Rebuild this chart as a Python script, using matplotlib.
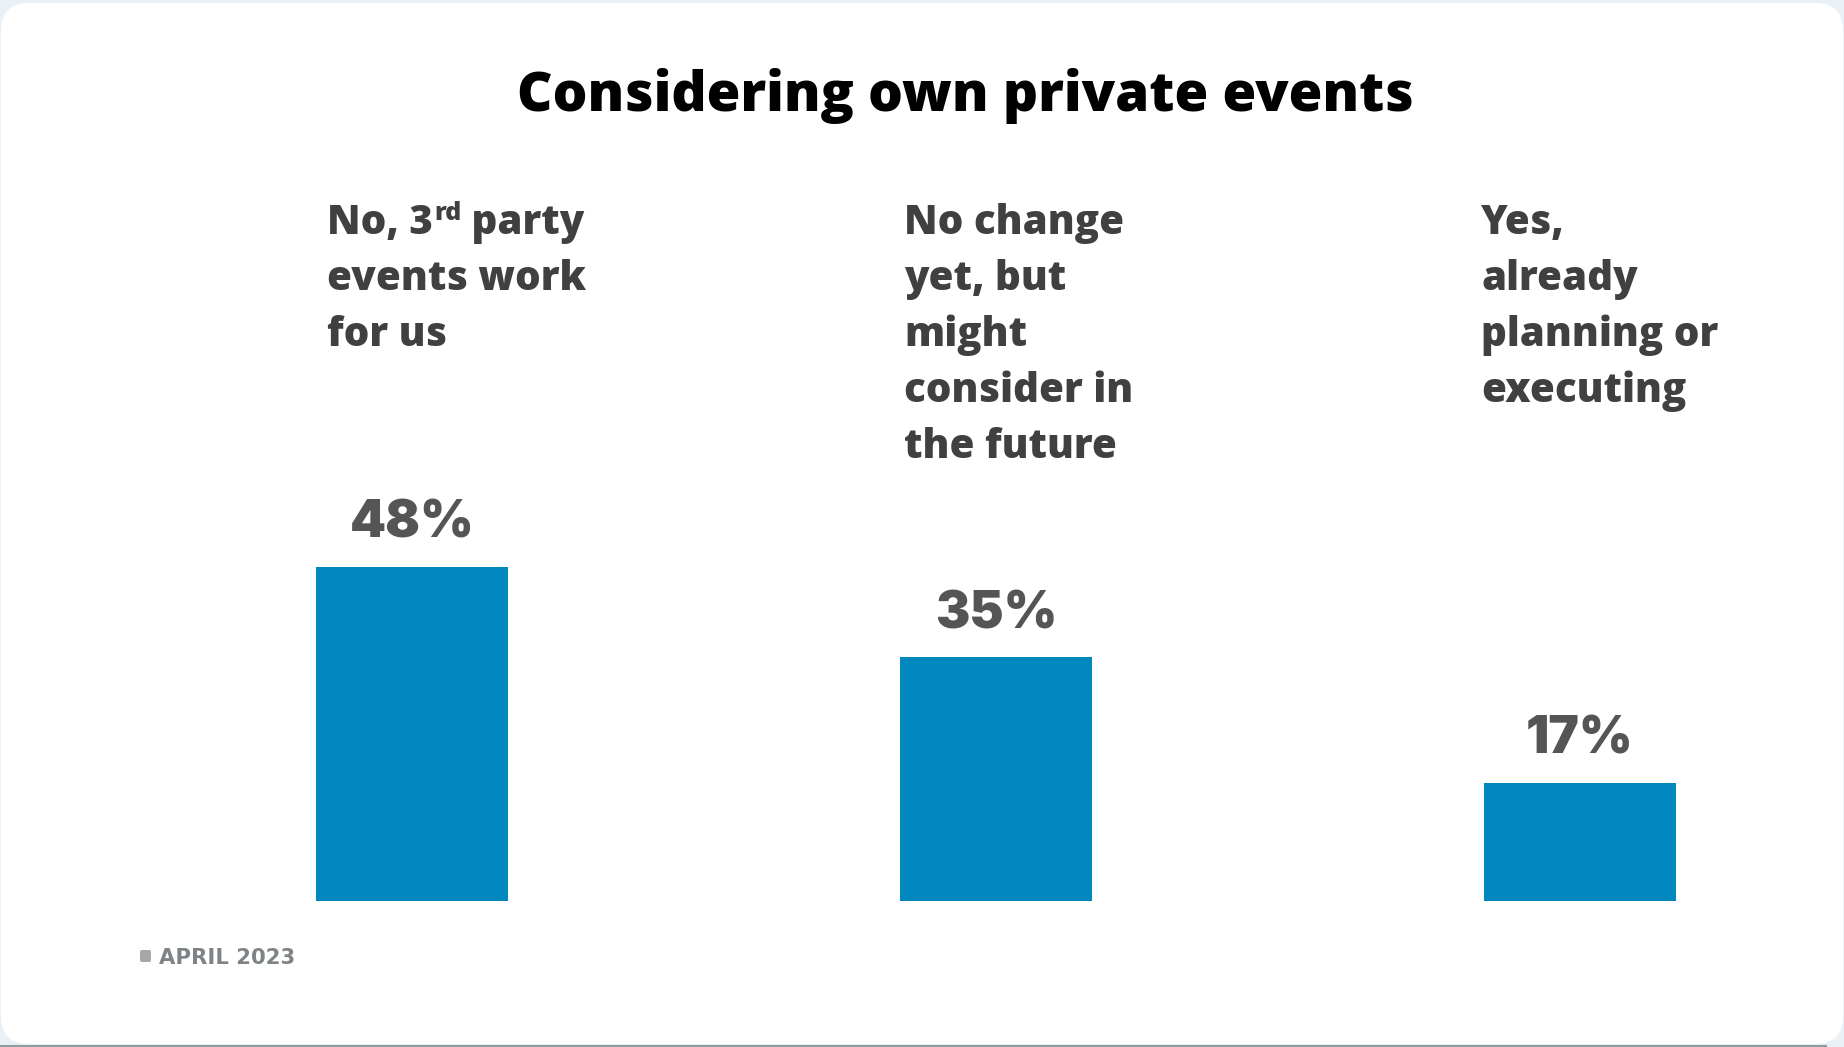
import matplotlib
matplotlib.use("Agg")
import matplotlib.pyplot as plt
from matplotlib.patches import FancyBboxPatch
from matplotlib.lines import Line2D
from matplotlib.transforms import IdentityTransform

# Chart data
title = "Considering own private events"
category_lines = [
    ["No, 3|rd| party", "events work", "for us"],
    ["No change", "yet, but", "might", "consider in", "the future"],
    ["Yes,", "already", "planning or", "executing"],
]
values = [48, 35, 17]
value_labels = ["48%", "35%", "17%"]
series_name = "APRIL 2023"

W, H = 1844, 1047
DPI = 100
BAR_COLOR = "#0087BE"
LABEL_COLOR = "#404040"
VALUE_COLOR = "#555555"
HEAD_FONT = ["Open Sans", "DejaVu Sans"]
VALUE_FONT = ["Inter", "DejaVu Sans"]

fig = plt.figure(figsize=(W / DPI, H / DPI), dpi=DPI)
fig.patch.set_facecolor("#EAF1F6")

# White rounded card with a thin grey base line
card = FancyBboxPatch((1, 3), W - 2, H - 6,
                      boxstyle="round,pad=0,rounding_size=28",
                      transform=IdentityTransform(), facecolor="white",
                      edgecolor="none", zorder=0)
fig.add_artist(card)
fig.add_artist(Line2D([0, W - 18], [1.5, 1.5], transform=IdentityTransform(),
                      color="#8E9BA1", lw=1.5, zorder=0))

# Axes placed so the bars land where they should in pixel space
step = 584.0
xmin, xmax = -0.4, 2.4
ax_left = 412 - (0 - xmin) * step
ax_width = (xmax - xmin) * step
ax_bottom = H - 901
ax_height = 696
ax = fig.add_axes([ax_left / W, ax_bottom / H, ax_width / W, ax_height / H])
ax.set_xlim(xmin, xmax)
ax.set_ylim(0, 100)
ax.axis("off")

bar_width = 0.33
xs = list(range(len(values)))
bars = ax.bar(xs, values, width=bar_width, color=BAR_COLOR, zorder=2)

# Value labels above bars
for x, v, lab in zip(xs, values, value_labels):
    ax.annotate(lab, xy=(x, v), xytext=(0, 29 * 72 / DPI),
                textcoords="offset points", ha="center", va="baseline",
                fontsize=37, fontweight=900, family=VALUE_FONT,
                color=VALUE_COLOR)

# Title
fig.text(965, H - 111, title, transform=IdentityTransform(),
         ha="center", va="baseline",
         fontsize=39.5, fontweight=800, family=HEAD_FONT, color="black")

# Category headings, left-aligned over each bar
renderer = fig.canvas.get_renderer()
first_baseline = 234
line_step = 56
cat_size = 29
indents = [0.020, 0.008, -0.004]
for x, lines, dx in zip(xs, category_lines, indents):
    x_left = x - bar_width / 2 + dx
    disp_x = ax.transData.transform((x_left, 0))[0]
    for i, line in enumerate(lines):
        base_y = H - (first_baseline + i * line_step)
        if "|" in line:
            pre, sup, post = line.split("|")
            t1 = fig.text(disp_x, base_y, pre, transform=IdentityTransform(),
                          ha="left", va="baseline", fontsize=cat_size,
                          fontweight=800, family=HEAD_FONT, color=LABEL_COLOR)
            ext1 = t1.get_window_extent(renderer)
            t2 = fig.text(ext1.x1 + 1, base_y + 14, sup,
                          transform=IdentityTransform(), ha="left",
                          va="baseline", fontsize=cat_size * 0.62,
                          fontweight=800, family=HEAD_FONT, color=LABEL_COLOR)
            ext2 = t2.get_window_extent(renderer)
            fig.text(ext2.x1, base_y, post, transform=IdentityTransform(),
                     ha="left", va="baseline", fontsize=cat_size,
                     fontweight=800, family=HEAD_FONT, color=LABEL_COLOR)
        else:
            fig.text(disp_x, base_y, line, transform=IdentityTransform(),
                     ha="left", va="baseline", fontsize=cat_size,
                     fontweight=800, family=HEAD_FONT, color=LABEL_COLOR)

# Legend key
fig.add_artist(FancyBboxPatch((140, H - 962), 11, 12,
                              boxstyle="round,pad=0,rounding_size=2",
                              transform=IdentityTransform(),
                              facecolor="#A8A6A6", edgecolor="none"))
fig.text(159, H - 964, series_name, transform=IdentityTransform(),
         ha="left", va="baseline", fontsize=15.2, fontweight="bold",
         family=["DejaVu Sans"], color="#7E8486")

fig.savefig("out.png", dpi=DPI, facecolor=fig.get_facecolor())
